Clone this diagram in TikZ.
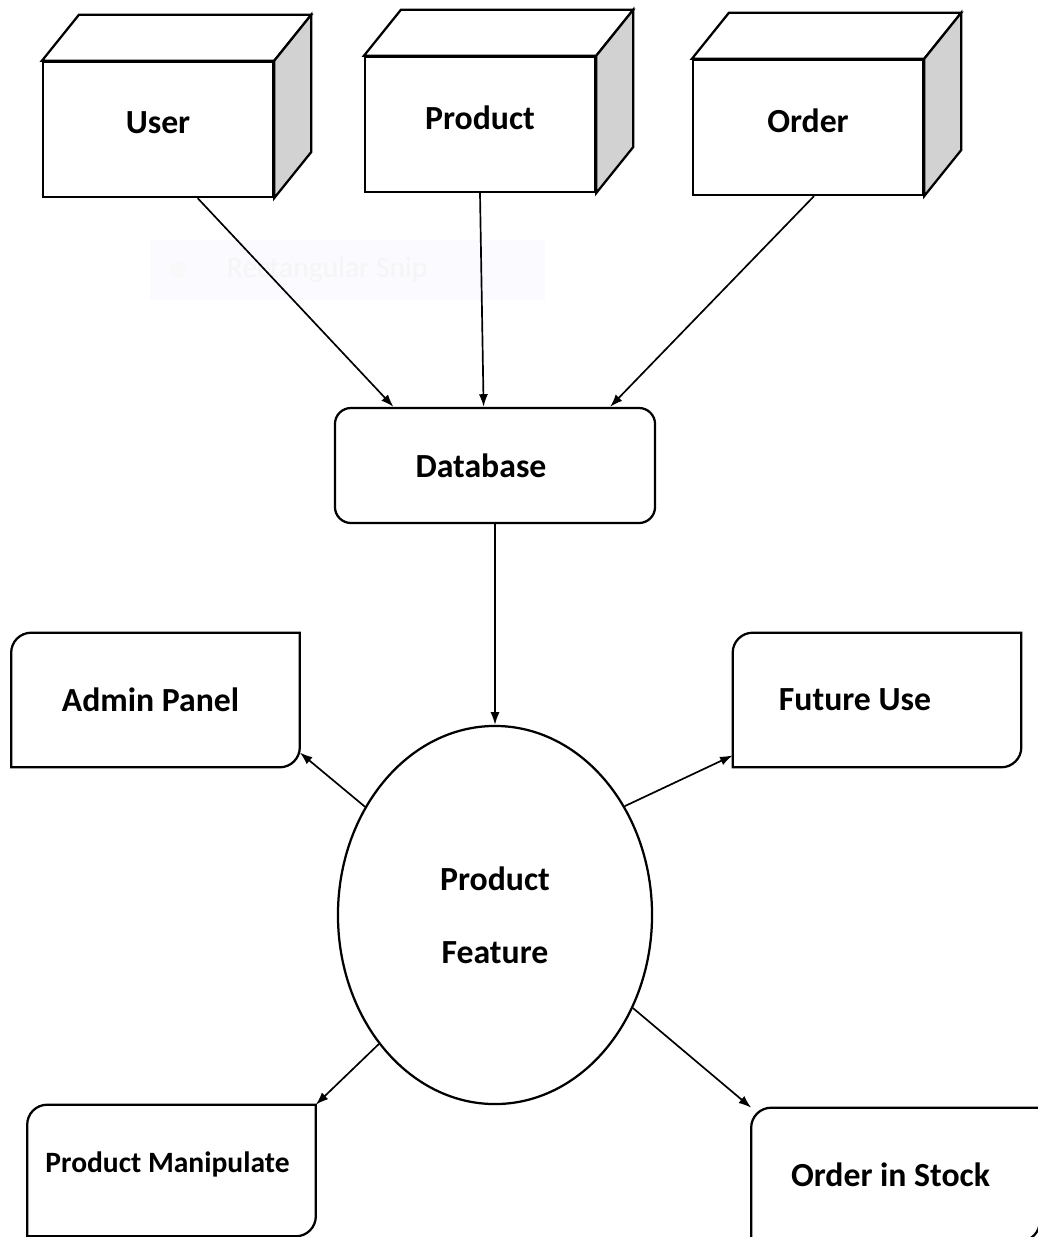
\documentclass[tikz,border=0pt]{standalone}
\usepackage{fontspec}
\setmainfont{Carlito}
\usetikzlibrary{shapes.geometric,arrows.meta}

\begin{document}
\begin{tikzpicture}
[
  x=0.025cm,
  y=-0.025cm,
  >={Latex[length=9pt,width=6.5pt]},
  font=\fontsize{24}{29}\selectfont\bfseries,
  cube/.style={draw,line width=1.6pt,fill=white,minimum width=5.75cm,minimum height=3.375cm,inner sep=0pt,text depth=10pt},
  cubetop/.style={draw,line width=1.6pt,fill=white},
  cubeside/.style={draw,line width=1.6pt,fill=gray!35},
  db/.style={draw,line width=1.6pt,rounded corners=0.4cm,minimum width=8cm,minimum height=2.875cm,inner sep=0pt},
  feature/.style={draw,line width=1.6pt,ellipse,minimum width=7.85cm,minimum height=9.45cm,inner sep=0pt,align=center},
  snip/.style={minimum width=7.2cm,minimum height=3.35cm,inner sep=0pt},
  border/.style={line width=1.6pt},
  arr/.style={->,line width=1.2pt}
]

\useasboundingbox (0,0) rectangle (1038,1237);

\fill[blue!2] (150,240) rectangle (545,300);
\fill[gray!5] (178,270) circle (8);
\node[text=gray!8,font=\fontsize{21}{25}\selectfont,anchor=west] (snipghost) at (222,270) {Rectangular Snip};

\node[cube] (user) at (158,129.5) {User};
\draw[cubetop] (user.north west) -- ++(37,-46) -- ([shift={(37,-46)}]user.north east) -- (user.north east) -- cycle;
\draw[cubeside] (user.north east) -- ([shift={(37,-46)}]user.north east) -- ([shift={(37,-46)}]user.south east) -- (user.south east) -- cycle;

\node[cube] (product) at (480,124.5) {Product};
\draw[cubetop] (product.north west) -- ++(37,-46) -- ([shift={(37,-46)}]product.north east) -- (product.north east) -- cycle;
\draw[cubeside] (product.north east) -- ([shift={(37,-46)}]product.north east) -- ([shift={(37,-46)}]product.south east) -- (product.south east) -- cycle;

\node[cube] (order) at (808,127.5) {Order};
\draw[cubetop] (order.north west) -- ++(37,-46) -- ([shift={(37,-46)}]order.north east) -- (order.north east) -- cycle;
\draw[cubeside] (order.north east) -- ([shift={(37,-46)}]order.north east) -- ([shift={(37,-46)}]order.south east) -- (order.south east) -- cycle;


\node[db] (database) at (495,465.5) {Database\hspace*{0.7cm}};

\draw[arr] (user.-60) -- (database.150);
\draw[arr] (product.south) -- (database.101);
\draw[arr] (order.-85) -- (database.27);


\node[feature] (feat) at (495,915) {Product\\[23pt]Feature};

\draw[arr] (database) -- (feat);


\node[snip] (admin) at (155.5,700) {Admin Panel\hspace*{0.25cm}};
\draw[border] ([xshift=0.5cm]admin.north west) -- (admin.north east) -- ([yshift=0.5cm]admin.south east) .. controls ([yshift=0.224cm]admin.south east) and ([xshift=-0.224cm]admin.south east) .. ([xshift=-0.5cm]admin.south east) -- (admin.south west) -- ([yshift=-0.5cm]admin.north west) .. controls ([yshift=-0.224cm]admin.north west) and ([xshift=0.224cm]admin.north west) .. ([xshift=0.5cm]admin.north west) -- cycle;

\node[snip] (future) at (877,700) {Future Use\hspace*{1.1cm}};
\draw[border] ([xshift=0.5cm]future.north west) -- (future.north east) -- ([yshift=0.5cm]future.south east) .. controls ([yshift=0.224cm]future.south east) and ([xshift=-0.224cm]future.south east) .. ([xshift=-0.5cm]future.south east) -- (future.south west) -- ([yshift=-0.5cm]future.north west) .. controls ([yshift=-0.224cm]future.north west) and ([xshift=0.224cm]future.north west) .. ([xshift=0.5cm]future.north west) -- cycle;

\node[snip,font=\fontsize{21}{25}\selectfont\bfseries,minimum height=3.275cm,text depth=12pt] (manip) at (171.5,1170.5) {Product Manipulate\hspace*{0.2cm}};
\draw[border] ([xshift=0.5cm]manip.north west) -- (manip.north east) -- ([yshift=0.5cm]manip.south east) .. controls ([yshift=0.224cm]manip.south east) and ([xshift=-0.224cm]manip.south east) .. ([xshift=-0.5cm]manip.south east) -- (manip.south west) -- ([yshift=-0.5cm]manip.north west) .. controls ([yshift=-0.224cm]manip.north west) and ([xshift=0.224cm]manip.north west) .. ([xshift=0.5cm]manip.north west) -- cycle;

\node[snip,minimum height=3.325cm] (stock) at (895.5,1174.5) {Order in Stock\hspace*{0.25cm}};
\draw[border] ([xshift=0.5cm]stock.north west) -- (stock.north east) -- ([yshift=0.5cm]stock.south east) .. controls ([yshift=0.224cm]stock.south east) and ([xshift=-0.224cm]stock.south east) .. ([xshift=-0.5cm]stock.south east) -- (stock.south west) -- ([yshift=-0.5cm]stock.north west) .. controls ([yshift=-0.224cm]stock.north west) and ([xshift=0.224cm]stock.north west) .. ([xshift=0.5cm]stock.north west) -- cycle;


\draw[arr] (feat) -- (admin.-20);
\draw[arr] (feat.40) -- (future.201);
\draw[arr] (feat.228) -- (manip.north east);
\draw[arr] (feat.-34) -- (stock.north west);

\end{tikzpicture}
\end{document}
